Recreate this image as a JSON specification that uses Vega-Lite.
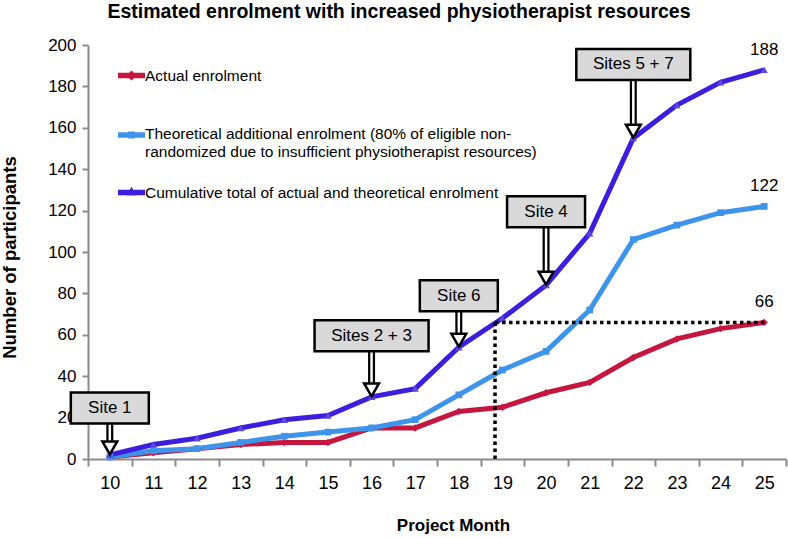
{
  "$schema": "https://vega.github.io/schema/vega-lite/v6.json",
  "width": 698,
  "height": 414,
  "autosize": {"type": "none"},
  "padding": {"left": 88, "top": 45, "right": 2, "bottom": 79},
  "background": "white",
  "title": {
    "text": "Estimated enrolment with increased physiotherapist resources",
    "fontSize": 19.5,
    "fontWeight": "bold",
    "font": "Liberation Sans, Arial",
    "color": "black",
    "anchor": "middle",
    "dx": -38,
    "offset": 14
  },
  "datasets": {
    "enrolment": [
      {"month": 10, "actual": 1, "theoretical": 1, "cumulative": 2},
      {"month": 11, "actual": 3, "theoretical": 4, "cumulative": 7},
      {"month": 12, "actual": 5, "theoretical": 5, "cumulative": 10},
      {"month": 13, "actual": 7, "theoretical": 8, "cumulative": 15},
      {"month": 14, "actual": 8, "theoretical": 11, "cumulative": 19},
      {"month": 15, "actual": 8, "theoretical": 13, "cumulative": 21},
      {"month": 16, "actual": 15, "theoretical": 15, "cumulative": 30},
      {"month": 17, "actual": 15, "theoretical": 19, "cumulative": 34},
      {"month": 18, "actual": 23, "theoretical": 31, "cumulative": 54},
      {"month": 19, "actual": 25, "theoretical": 43, "cumulative": 68},
      {"month": 20, "actual": 32, "theoretical": 52, "cumulative": 84},
      {"month": 21, "actual": 37, "theoretical": 72, "cumulative": 109},
      {"month": 22, "actual": 49, "theoretical": 106, "cumulative": 155},
      {"month": 23, "actual": 58, "theoretical": 113, "cumulative": 171},
      {"month": 24, "actual": 63, "theoretical": 119, "cumulative": 182},
      {"month": 25, "actual": 66, "theoretical": 122, "cumulative": 188}
    ],
    "sites": [
      {"label": "Site 1", "month": 10, "tip": 2, "box_y": 24.6},
      {"label": "Sites 2 + 3", "month": 16, "tip": 30, "box_y": 59.6},
      {"label": "Site 6", "month": 18, "tip": 54, "box_y": 78.9},
      {"label": "Site 4", "month": 20, "tip": 84, "box_y": 119.4},
      {"label": "Sites 5 + 7", "month": 22, "tip": 155, "box_y": 190.6}
    ],
    "guides": [
      {"x": 18.83, "x2": 18.83, "y": 0, "y2": 66},
      {"x": 18.83, "x2": 25, "y": 66, "y2": 66}
    ]
  },
  "layer": [
    {
      "data": {"name": "enrolment"},
      "transform": [
        {"fold": ["actual", "theoretical", "cumulative"], "as": ["series", "value"]}
      ],
      "layer": [
        {
          "transform": [{"filter": "datum.month < 0"}],
          "mark": {"type": "point", "filled": true, "opacity": 1},
          "encoding": {
            "x": {"field": "month", "type": "quantitative"},
            "y": {"field": "value", "type": "quantitative"},
            "color": {
              "field": "series",
              "type": "nominal",
              "scale": {
                "domain": ["actual", "theoretical", "cumulative"],
                "range": ["#c4163f", "#3d94ea", "#3b1fdc"]
              },
              "legend": {
                "title": null,
                "orient": "none",
                "legendX": 30,
                "legendY": 17,
                "direction": "vertical",
                "symbolSize": 729,
                "symbolStrokeWidth": 0,
                "symbolOpacity": 1,
                "labelFontSize": 15.5,
                "labelFont": "Liberation Sans, Arial",
                "labelColor": "black",
                "labelLimit": 0,
                "labelOffset": 0,
                "rowPadding": 19,
                "labelExpr": "datum.label == 'actual' ? 'Actual enrolment' : datum.label == 'theoretical' ? [' ', 'Theoretical additional enrolment (80% of eligible non-', 'randomized due to insufficient physiotherapist resources)'] : 'Cumulative total of actual and theoretical enrolment'"
              }
            },
            "shape": {
              "field": "series",
              "type": "nominal",
              "scale": {
                "domain": ["actual", "theoretical", "cumulative"],
                "range": [
                  "M-1,-0.2H-0.17L0,-0.37L0.17,-0.2H1V0.2H0.17L0,0.37L-0.17,0.2H-1Z",
                  "M-1,1.167H-0.26V1.107H0.26V1.167H1V1.567H0.26V1.627H-0.26V1.567H-1Z",
                  "M-1,-0.2H-0.127L0,-0.42L0.127,-0.2H1V0.2H0.358L0.37,0.22H-0.37L-0.358,0.2H-1Z"
                ]
              },
              "legend": {
                "title": null,
                "orient": "none",
                "legendX": 30,
                "legendY": 17,
                "direction": "vertical",
                "symbolSize": 729,
                "symbolStrokeWidth": 0,
                "symbolOpacity": 1,
                "labelFontSize": 15.5,
                "labelFont": "Liberation Sans, Arial",
                "labelColor": "black",
                "labelLimit": 0,
                "labelOffset": 0,
                "rowPadding": 19,
                "labelExpr": "datum.label == 'actual' ? 'Actual enrolment' : datum.label == 'theoretical' ? [' ', 'Theoretical additional enrolment (80% of eligible non-', 'randomized due to insufficient physiotherapist resources)'] : 'Cumulative total of actual and theoretical enrolment'"
              }
            }
          }
        },
        {
          "mark": {"type": "line", "strokeWidth": 5},
          "encoding": {
            "x": {"field": "month", "type": "quantitative"},
            "y": {"field": "value", "type": "quantitative"},
            "color": {"field": "series", "type": "nominal"}
          }
        },
        {
          "transform": [{"filter": "datum.series == 'actual'"}],
          "mark": {"type": "point", "shape": "diamond", "filled": true, "size": 55, "opacity": 1, "color": "#c4163f"},
          "encoding": {
            "x": {"field": "month", "type": "quantitative"},
            "y": {"field": "value", "type": "quantitative"}
          }
        },
        {
          "transform": [{"filter": "datum.series == 'theoretical'"}],
          "mark": {"type": "point", "shape": "square", "filled": true, "size": 45, "opacity": 1, "color": "#3d94ea"},
          "encoding": {
            "x": {"field": "month", "type": "quantitative"},
            "y": {"field": "value", "type": "quantitative"}
          }
        },
        {
          "transform": [{"filter": "datum.series == 'cumulative'"}],
          "mark": {"type": "point", "shape": "triangle-up", "filled": true, "size": 55, "opacity": 1, "color": "#5b48dc"},
          "encoding": {
            "x": {"field": "month", "type": "quantitative"},
            "y": {"field": "value", "type": "quantitative"}
          }
        },
        {
          "transform": [{"filter": "datum.month == 25"}],
          "mark": {
            "type": "text",
            "dy": -20,
            "fontSize": 17,
            "font": "Liberation Sans, Arial",
            "color": "black"
          },
          "encoding": {
            "x": {"field": "month", "type": "quantitative"},
            "y": {"field": "value", "type": "quantitative"},
            "text": {"field": "value", "type": "quantitative"}
          }
        }
      ]
    },
    {
      "data": {"name": "guides"},
      "mark": {"type": "rule", "color": "black", "strokeWidth": 3.5, "strokeDash": [3.5, 3.5]},
      "encoding": {
        "x": {"field": "x", "type": "quantitative"},
        "x2": {"field": "x2"},
        "y": {"field": "y", "type": "quantitative"},
        "y2": {"field": "y2"}
      }
    },
    {
      "data": {"name": "sites"},
      "layer": [
        {
          "mark": {"type": "rule", "color": "black", "strokeWidth": 7, "y2Offset": -10},
          "encoding": {
            "x": {"field": "month", "type": "quantitative"},
            "y": {"field": "box_y", "type": "quantitative"},
            "y2": {"field": "tip"}
          }
        },
        {
          "mark": {"type": "rule", "color": "white", "strokeWidth": 2.5, "y2Offset": -10},
          "encoding": {
            "x": {"field": "month", "type": "quantitative"},
            "y": {"field": "box_y", "type": "quantitative"},
            "y2": {"field": "tip"}
          }
        },
        {
          "mark": {
            "type": "point",
            "shape": "triangle-down",
            "size": 220,
            "filled": true,
            "fill": "white",
            "stroke": "black",
            "strokeWidth": 2.5,
            "opacity": 1,
            "yOffset": -7
          },
          "encoding": {
            "x": {"field": "month", "type": "quantitative"},
            "y": {"field": "tip", "type": "quantitative"}
          }
        },
        {
          "transform": [{"filter": "length(datum.label) <= 6"}],
          "mark": {"type": "rect", "width": 78, "height": 31, "fill": "#d9d9d9", "stroke": "black", "strokeWidth": 2.5},
          "encoding": {
            "x": {"field": "month", "type": "quantitative"},
            "y": {"field": "box_y", "type": "quantitative"}
          }
        },
        {
          "transform": [{"filter": "length(datum.label) > 6"}],
          "mark": {"type": "rect", "width": 114, "height": 31, "fill": "#d9d9d9", "stroke": "black", "strokeWidth": 2.5},
          "encoding": {
            "x": {"field": "month", "type": "quantitative"},
            "y": {"field": "box_y", "type": "quantitative"}
          }
        },
        {
          "mark": {
            "type": "text",
            "fontSize": 17,
            "font": "Liberation Sans, Arial",
            "color": "black",
            "baseline": "middle",
            "align": "center"
          },
          "encoding": {
            "x": {"field": "month", "type": "quantitative"},
            "y": {"field": "box_y", "type": "quantitative"},
            "text": {"field": "label"}
          }
        }
      ]
    }
  ],
  "encoding": {
    "x": {
      "field": "month",
      "type": "quantitative",
      "scale": {"domain": [9.5, 25.5], "nice": false, "zero": false},
      "axis": {
        "title": "Project Month",
        "values": [9.5, 10, 10.5, 11, 11.5, 12, 12.5, 13, 13.5, 14, 14.5, 15, 15.5, 16, 16.5, 17, 17.5, 18, 18.5, 19, 19.5, 20, 20.5, 21, 21.5, 22, 22.5, 23, 23.5, 24, 24.5, 25, 25.5],
        "labelExpr": "datum.value % 1 == 0 ? '' + datum.value : ''",
        "tickOpacity": {"condition": {"test": "datum.value % 1 == 0", "value": 0}, "value": 1},
        "labelOverlap": false,
        "labelFlush": false,
        "labelFontSize": 18,
        "tickSize": 7,
        "labelPadding": 8,
        "titleFontSize": 17,
        "titleX": 365,
        "titleY": 66,
        "titleBaseline": "middle"
      }
    },
    "y": {
      "field": "value",
      "type": "quantitative",
      "scale": {"domain": [0, 200], "nice": false},
      "axis": {
        "title": "Number of participants",
        "values": [0, 20, 40, 60, 80, 100, 120, 140, 160, 180, 200],
        "tickSize": 6,
        "labelPadding": 6,
        "titleFontSize": 18.5,
        "titleX": -79,
        "titleY": 212,
        "titleBaseline": "middle"
      }
    }
  },
  "config": {
    "view": {"stroke": null},
    "axis": {
      "grid": false,
      "domainColor": "#8c8c8c",
      "domainWidth": 2,
      "tickColor": "#8c8c8c",
      "tickWidth": 2,
      "labelFont": "Liberation Sans, Arial",
      "labelFontSize": 17,
      "labelColor": "black",
      "titleFont": "Liberation Sans, Arial",
      "titleFontWeight": "bold",
      "titleColor": "black"
    }
  }
}
